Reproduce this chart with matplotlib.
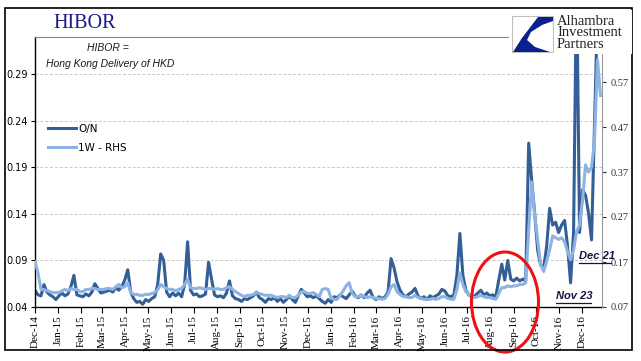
import matplotlib
matplotlib.use("Agg")
import matplotlib.pyplot as plt
import matplotlib.dates as mdates
from matplotlib.patches import Rectangle, Ellipse, Polygon
from matplotlib.lines import Line2D
import pandas as pd

W, H = 641, 361

# HIBOR fixings, sampled every 4 days from 1 Dec 2014
dates = pd.date_range("2014-12-01", periods=190, freq="4D")

on_vals = [
    0.058, 0.053, 0.052, 0.064, 0.056, 0.053, 0.051, 0.048, 0.052, 0.055,
    0.052, 0.054, 0.062, 0.074, 0.053, 0.052, 0.051, 0.054, 0.052, 0.056,
    0.065, 0.060, 0.055, 0.056, 0.057, 0.058, 0.056, 0.061, 0.058, 0.062,
    0.069, 0.080, 0.056, 0.049, 0.045, 0.046, 0.043, 0.048, 0.046, 0.049,
    0.051, 0.064, 0.097, 0.090, 0.056, 0.051, 0.055, 0.052, 0.055, 0.051,
    0.064, 0.110, 0.058, 0.053, 0.054, 0.051, 0.052, 0.054, 0.088, 0.070,
    0.053, 0.051, 0.052, 0.050, 0.055, 0.068, 0.052, 0.049, 0.048, 0.046,
    0.049, 0.048, 0.050, 0.052, 0.056, 0.050, 0.048, 0.045, 0.049, 0.048,
    0.050, 0.046, 0.049, 0.045, 0.048, 0.052, 0.048, 0.045, 0.052, 0.059,
    0.055, 0.051, 0.052, 0.050, 0.052, 0.049, 0.046, 0.044, 0.048, 0.045,
    0.051, 0.050, 0.053, 0.051, 0.049, 0.053, 0.057, 0.052, 0.050, 0.053,
    0.050, 0.055, 0.058, 0.050, 0.048, 0.051, 0.049, 0.051, 0.056, 0.092,
    0.082, 0.067, 0.058, 0.053, 0.051, 0.054, 0.056, 0.060, 0.052, 0.049,
    0.051, 0.048, 0.052, 0.050, 0.052, 0.054, 0.059, 0.057, 0.052, 0.051,
    0.053, 0.074, 0.119, 0.074, 0.058, 0.053, 0.051, 0.052, 0.055, 0.058,
    0.053, 0.055, 0.052, 0.053, 0.051, 0.069, 0.086, 0.069, 0.090, 0.070,
    0.068, 0.071, 0.068, 0.070, 0.068, 0.216, 0.176, 0.141, 0.101, 0.085,
    0.082, 0.105, 0.146, 0.128, 0.131, 0.120, 0.128, 0.133, 0.105, 0.066,
    0.120, 0.400, 0.120, 0.166, 0.160, 0.141, 0.112, 0.237, 0.360, 0.340,
]

w1_vals = [
    0.171, 0.146, 0.109, 0.109, 0.106, 0.104, 0.102, 0.102, 0.102, 0.106,
    0.109, 0.106, 0.111, 0.109, 0.109, 0.104, 0.104, 0.109, 0.109, 0.111,
    0.111, 0.109, 0.109, 0.109, 0.111, 0.111, 0.109, 0.115, 0.120, 0.113,
    0.115, 0.124, 0.102, 0.098, 0.098, 0.096, 0.096, 0.098, 0.098, 0.100,
    0.102, 0.109, 0.120, 0.115, 0.111, 0.109, 0.109, 0.106, 0.109, 0.111,
    0.120, 0.131, 0.113, 0.111, 0.111, 0.113, 0.111, 0.109, 0.111, 0.111,
    0.109, 0.111, 0.109, 0.109, 0.113, 0.115, 0.109, 0.104, 0.100, 0.096,
    0.093, 0.096, 0.096, 0.098, 0.102, 0.100, 0.098, 0.096, 0.096, 0.096,
    0.093, 0.091, 0.093, 0.093, 0.091, 0.096, 0.091, 0.091, 0.096, 0.104,
    0.104, 0.100, 0.100, 0.102, 0.098, 0.093, 0.109, 0.111, 0.109, 0.089,
    0.087, 0.087, 0.096, 0.106, 0.117, 0.124, 0.100, 0.093, 0.093, 0.096,
    0.093, 0.091, 0.093, 0.091, 0.089, 0.089, 0.087, 0.089, 0.098, 0.115,
    0.120, 0.104, 0.098, 0.093, 0.093, 0.091, 0.091, 0.096, 0.091, 0.089,
    0.087, 0.087, 0.087, 0.089, 0.087, 0.089, 0.093, 0.093, 0.089, 0.087,
    0.087, 0.109, 0.146, 0.120, 0.104, 0.098, 0.093, 0.091, 0.093, 0.096,
    0.093, 0.091, 0.091, 0.089, 0.087, 0.100, 0.113, 0.113, 0.117, 0.115,
    0.117, 0.117, 0.120, 0.120, 0.124, 0.242, 0.348, 0.275, 0.220, 0.164,
    0.149, 0.171, 0.197, 0.228, 0.224, 0.220, 0.224, 0.215, 0.193, 0.175,
    0.197, 0.237, 0.253, 0.308, 0.386, 0.370, 0.380, 0.440, 0.619, 0.540,
]

left_ticks = [0.04, 0.09, 0.14, 0.19, 0.24, 0.29]
right_ticks = [0.07, 0.17, 0.27, 0.37, 0.47, 0.57]
month_ticks = pd.date_range("2014-12-01", "2016-12-01", freq="MS")

dark = "#335f96"
light = "#8db3e2"


def fx(x):
    return x / W


def fy(y):
    return 1 - y / H


fig = plt.figure(figsize=(W / 100, H / 100), dpi=100)
ax = fig.add_axes([fx(35), fy(307), fx(602) - fx(35), fy(37) - fy(307)])
ax2 = ax.twinx()

l1, = ax.plot(dates, on_vals, color=dark, lw=2.2, solid_joinstyle="round")
l2, = ax2.plot(dates, w1_vals, color=light, lw=2.2, solid_joinstyle="round")

ax.set_xlim(pd.Timestamp("2014-12-01"), pd.Timestamp("2016-12-28"))
ax.set_ylim(0.04, 0.33)
ax2.set_ylim(0.07, 0.67)

ax.set_yticks(left_ticks)
ax.set_yticklabels([f"{v:.2f}" for v in left_ticks])
ax2.set_yticks(right_ticks)
ax2.set_yticklabels([f"{v:.2f}" for v in right_ticks], family="Liberation Serif")

ax.set_xticks(month_ticks)
ax.xaxis.set_major_formatter(mdates.DateFormatter("%b-%y"))
for lab in ax.get_xticklabels():
    lab.set_rotation(90)
    lab.set_family("Liberation Serif")
    lab.set_fontsize(8)

ax.tick_params(axis="y", direction="out", length=3, labelsize=7, pad=2)
ax.tick_params(axis="x", direction="out", length=4, pad=2)
ax2.tick_params(axis="y", direction="out", length=3, labelsize=7.5, pad=3,
                colors="#333333")

ax.yaxis.grid(True, linestyle=(0, (3, 2)), color="#c8c8c8", lw=0.7)
ax.set_axisbelow(True)

for s in ["left", "bottom"]:
    ax.spines[s].set_color("black")
    ax.spines[s].set_linewidth(1.0)
ax.spines["top"].set_color("#888888")
ax.spines["right"].set_visible(False)
for s in ["left", "bottom", "top"]:
    ax2.spines[s].set_visible(False)
ax2.spines["right"].set_color("#999999")

leg = ax.legend([l1, l2], ["O/N", "1W - RHS"], loc="upper left",
                bbox_to_anchor=(fx(48), fy(124)), bbox_transform=fig.transFigure,
                frameon=False, fontsize=7.5, handlelength=2.7, handletextpad=0.2,
                labelspacing=0.85, borderpad=0, borderaxespad=0)

# title and notes
fig.text(fx(53), fy(23), "HIBOR", family="Liberation Serif", fontsize=14.5,
         color="#17178a", va="center", ha="left")
fig.text(fx(108), fy(48), "HIBOR =", style="italic", fontsize=7.5,
         family="Liberation Sans", ha="center", va="center", color="#1a1a1a")
fig.text(fx(110), fy(64), "Hong Kong Delivery of HKD", style="italic", fontsize=7.5,
         family="Liberation Sans", ha="center", va="center", color="#1a1a1a")

# annotations
note_col = "#151545"
fig.text(fx(579), fy(256), "Dec 21", style="italic", weight="bold", fontsize=8,
         family="Liberation Sans", ha="left", va="center", color=note_col)
fig.add_artist(Line2D([fx(579), fx(611)], [fy(263), fy(263)], color=note_col, lw=0.9))
fig.text(fx(556), fy(296), "Nov 23", style="italic", weight="bold", fontsize=8,
         family="Liberation Sans", ha="left", va="center", color=note_col)
fig.add_artist(Line2D([fx(556), fx(591)], [fy(303), fy(303)], color=note_col, lw=0.9))

# red circle
fig.add_artist(Ellipse((fx(505), fy(302)), 67 / W, 100 / H, fill=False,
                       edgecolor="#ee1111", lw=2.2))

# logo block
fig.add_artist(Rectangle((fx(509), fy(54)), (632 - 509) / W, (54 - 10) / H,
                         facecolor="white", edgecolor="none", zorder=5))
fig.add_artist(Rectangle((fx(512), fy(52)), 41 / W, 36 / H, facecolor="white",
                         edgecolor="#c0c0c0", lw=0.8, zorder=6))
logo_pts = [(538, 17), (553, 17), (553, 21), (542, 25), (531, 32), (527, 40),
            (535, 47), (550, 52), (513, 52), (522, 38)]
fig.add_artist(Polygon([(fx(a), fy(b)) for a, b in logo_pts], closed=True,
                       facecolor="#0b1f8f", edgecolor="none", zorder=7))
fig.text(fx(557), fy(33), "Alhambra\nInvestment\nPartners", family="Liberation Serif",
         fontsize=10.5, color="#222222", ha="left", va="center", linespacing=0.82,
         zorder=8)

# outer frame
fig.add_artist(Rectangle((fx(5), fy(350)), 627 / W, 342 / H, fill=False,
                         edgecolor="black", lw=1.2))

fig.savefig("out.png", dpi=100)
